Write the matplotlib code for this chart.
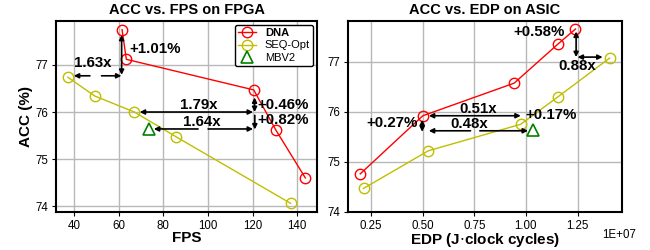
import matplotlib
matplotlib.use("Agg")
import matplotlib.pyplot as plt

plt.rcParams['font.family'] = ['Liberation Sans', 'DejaVu Sans']

# ---- data: FPGA ----
fps_dna = [61.6, 63.5, 120.5, 130.5, 143.6]
acc_fpga_dna = [77.75, 77.12, 76.47, 75.61, 74.60]
fps_seq = [37.3, 49.4, 67.1, 85.9, 137.0]
acc_fpga_seq = [76.74, 76.34, 76.00, 75.47, 74.06]
fps_mbv2 = [73.5]
acc_fpga_mbv2 = [75.64]

# ---- data: ASIC (EDP in units of 1E+07) ----
edp_dna = [0.198, 0.501, 0.943, 1.155, 1.240]
acc_asic_dna = [74.76, 75.92, 76.57, 77.35, 77.65]
edp_seq = [0.214, 0.527, 0.975, 1.156, 1.405]
acc_asic_seq = [74.47, 75.22, 75.75, 76.30, 77.07]
edp_mbv2 = [1.032]
acc_asic_mbv2 = [75.64]

labels = ['DNA', 'SEQ-Opt', 'MBV2']

fig = plt.figure(figsize=(6.5, 2.5), dpi=100)
ax1 = fig.add_axes([0.086, 0.152, 0.402, 0.764])
ax2 = fig.add_axes([0.535, 0.152, 0.422, 0.764])

RED = '#ff0000'
YEL = '#bfbf00'
GRN = '#008000'

def style(ax):
    ax.grid(True, color='#b8b8b8', linewidth=1.0)
    ax.set_axisbelow(True)
    for s in ax.spines.values():
        s.set_linewidth(1.5)
        s.set_color('black')
    ax.tick_params(labelsize=8.3, length=3, width=0.8, pad=2.5)

mk = dict(marker='o', markersize=7.5, markerfacecolor='none', linewidth=1.0, markeredgewidth=1.0)

# ---------- left ----------
ax1.plot(fps_dna, acc_fpga_dna, color=RED, label=labels[0], **mk)
ax1.plot(fps_seq, acc_fpga_seq, color=YEL, label=labels[1], **mk)
ax1.plot(fps_mbv2, acc_fpga_mbv2, linestyle='none', marker='^', markersize=8,
         markerfacecolor='none', markeredgecolor=GRN, markeredgewidth=1.2, label=labels[2])
style(ax1)
ax1.set_xticks([40, 60, 80, 100, 120, 140])
ax1.set_yticks([74, 75, 76, 77])
ax1.set_title('ACC vs. FPS on FPGA', fontsize=10.5, fontweight='bold', pad=5)
ax1.set_xlabel('FPS', fontsize=11, fontweight='bold', labelpad=-0.5)
ax1.set_ylabel('ACC (%)', fontsize=11, fontweight='bold', labelpad=2)
leg = ax1.legend(loc='upper right', fontsize=8, frameon=True, fancybox=True,
                 edgecolor='black', framealpha=1, borderaxespad=0.35,
                 handlelength=1.6, labelspacing=0.2, borderpad=0.3)
leg.get_frame().set_linewidth(1.0)
leg.get_texts()[0].set_fontweight('bold')

AP2 = dict(arrowstyle='<|-|>', color='black', lw=1.2, mutation_scale=7, shrinkA=0, shrinkB=0)
AP1 = dict(arrowstyle='-|>', color='black', lw=1.2, mutation_scale=7, shrinkA=0, shrinkB=0)
TXT = dict(fontsize=10.8, fontweight='bold', ha='center', va='center')

def darrow(ax, p1, p2):
    ax.annotate('', xy=p2, xytext=p1, arrowprops=AP2)

def sarrow(ax, start, end):
    ax.annotate('', xy=end, xytext=start, arrowprops=AP1)

# 1.63x with gap
sarrow(ax1, (47.2, 76.77), (40.0, 76.77))
sarrow(ax1, (52.4, 76.77), (61.3, 76.77))
ax1.text(48.6, 77.05, '1.63x', **TXT)
# +1.01%
darrow(ax1, (61.4, 76.79), (61.4, 77.64))
ax1.text(65.0, 77.33, '+1.01%', fontsize=10.8, fontweight='bold', ha='left', va='center')
# 1.79x
darrow(ax1, (69.5, 76.0), (120.2, 76.0))
ax1.text(96.0, 76.14, '1.79x', **TXT)
# 1.64x with gap
sarrow(ax1, (95.6, 75.64), (75.8, 75.64))
sarrow(ax1, (100.1, 75.64), (120.2, 75.64))
ax1.text(97.1, 75.78, '1.64x', **TXT)
# +0.46%
darrow(ax1, (120.9, 76.0), (120.9, 76.31))
ax1.text(133.6, 76.15, '+0.46%', **TXT)
# +0.82%
sarrow(ax1, (121.0, 75.93), (121.0, 75.63))
ax1.text(133.6, 75.84, '+0.82%', **TXT)

# ---------- right ----------
ax2.plot(edp_dna, acc_asic_dna, color=RED, **mk)
ax2.plot(edp_seq, acc_asic_seq, color=YEL, **mk)
ax2.plot(edp_mbv2, acc_asic_mbv2, linestyle='none', marker='^', markersize=8,
         markerfacecolor='none', markeredgecolor=GRN, markeredgewidth=1.2)
style(ax2)
ax2.set_xticks([0.25, 0.5, 0.75, 1.0, 1.25])
ax2.set_xticklabels(['0.25', '0.50', '0.75', '1.00', '1.25'])
ax2.set_yticks([74, 75, 76, 77])
ax2.set_ylim(74, 77.81)
ax2.set_title('ACC vs. EDP on ASIC', fontsize=10.5, fontweight='bold', pad=5)
ax2.set_xlabel('EDP (J$\\cdot$clock cycles)', fontsize=11, fontweight='bold', labelpad=-0.5)
fig.text(636 / 650, 1 - 235 / 250, '1E+07', fontsize=8.3, ha='right', va='center')

# +0.58%
darrow(ax2, (1.243, 77.09), (1.243, 77.60))
ax2.text(1.064, 77.60, '+0.58%', **TXT)
# 0.88x
darrow(ax2, (1.25, 77.09), (1.371, 77.09))
ax2.text(1.247, 76.92, '0.88x', **TXT)
# 0.51x
darrow(ax2, (0.53, 75.92), (0.975, 75.92))
ax2.text(0.769, 76.06, '0.51x', **TXT)
# 0.48x with gap
sarrow(ax2, (0.732, 75.62), (0.53, 75.62))
sarrow(ax2, (0.777, 75.62), (1.01, 75.62))
ax2.text(0.727, 75.76, '0.48x', **TXT)
# +0.27%
darrow(ax2, (0.498, 75.60), (0.498, 75.84))
ax2.text(0.352, 75.77, '+0.27%', **TXT)
# +0.17%
ax2.text(1.12, 75.94, '+0.17%', **TXT)

fig.savefig('out.png', dpi=100)
